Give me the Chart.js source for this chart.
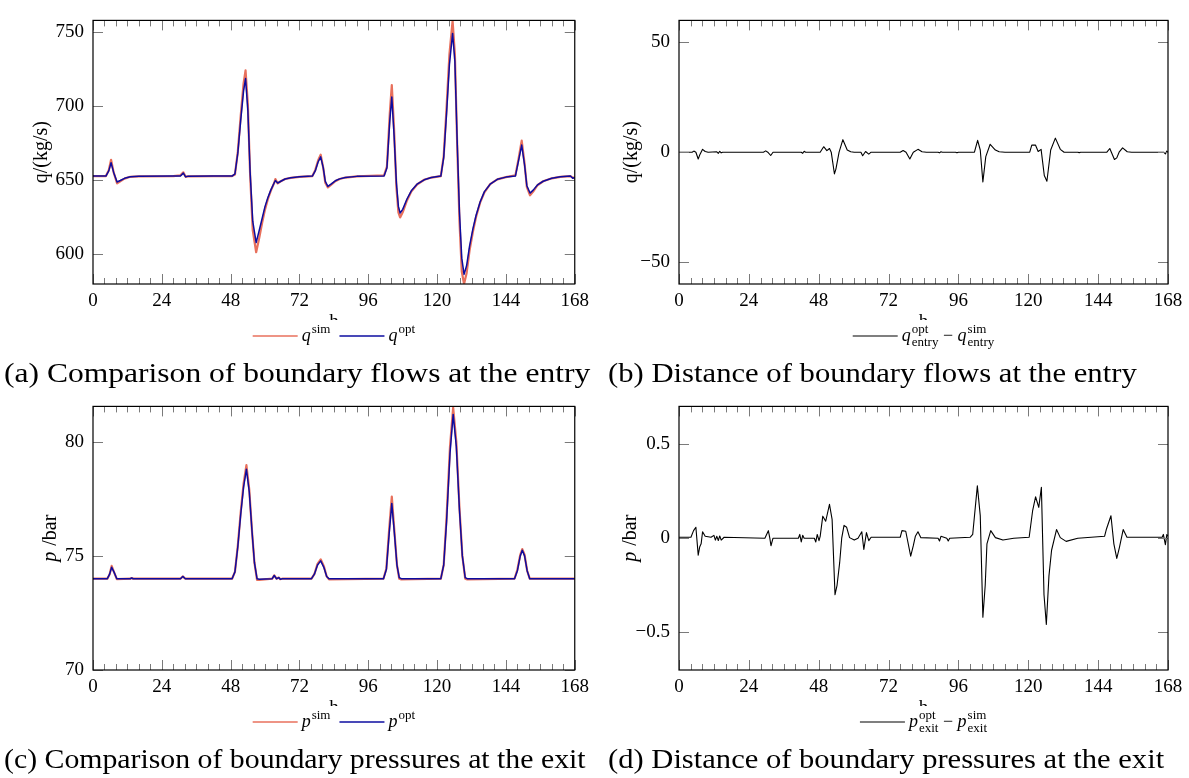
<!DOCTYPE html>
<html>
<head>
<meta charset="utf-8">
<script src="https://cdn.jsdelivr.net/npm/chart.js@4.4.1/dist/chart.umd.min.js"></script>
<style>
html, body { margin: 0; padding: 0; background: #fff; }
body { width: 1189px; height: 778px; position: relative; overflow: hidden; font-family: "Liberation Serif", serif; }
canvas { position: absolute; }
.cap { position: absolute; white-space: nowrap; font-size: 28px; line-height: 1; color: #000; transform-origin: 0 50%; }
</style>
</head>
<body>
<canvas id="chartA" width="595" height="360" style="left:0;top:0"></canvas>
<canvas id="chartB" width="594" height="360" style="left:595px;top:0"></canvas>
<canvas id="chartC" width="595" height="360" style="left:0;top:386px"></canvas>
<canvas id="chartD" width="594" height="360" style="left:595px;top:386px"></canvas>
<div class="cap" id="capA" data-w="586" style="left:4px;top:359px">(a) Comparison of boundary flows at the entry</div>
<div class="cap" id="capB" data-w="529" style="left:608px;top:359px">(b) Distance of boundary flows at the entry</div>
<div class="cap" id="capC" data-w="582" style="left:4px;top:745px">(c) Comparison of boundary pressures at the exit</div>
<div class="cap" id="capD" data-w="556" style="left:608px;top:745px">(d) Distance of boundary pressures at the exit</div>
<script>
// hours (x axis)
const xTicks = [0, 24, 48, 72, 96, 120, 144, 168];

// (a) boundary flow at the entry, kg/s
const tFlow = [0, 4.5, 5.5, 6.3, 7.2, 8.4, 9.5, 11, 13, 16,
  28, 30.5, 31.5, 32.3, 33, 42, 48.5, 49.5, 50.5, 51.5,
  52.5, 53.2, 54, 54.8, 55.7, 56.9, 58, 59, 60, 61,
  62, 63.2, 63.6, 64.4, 65.5, 67, 69, 72, 76.5, 77.5,
  78.5, 79.4, 80.3, 81, 81.9, 83, 84.5, 86, 88, 92,
  101.5, 102.5, 103.5, 104.2, 105, 105.8, 106.5, 107.1, 108, 109.5,
  111, 113, 115.5, 118, 121.3, 122.3, 123.3, 124.3, 125.4, 126.2,
  127, 127.8, 128.6, 129.4, 130.3, 131.3, 132.5, 133.6, 135, 136.5,
  138.5, 141, 144, 147.3, 148.3, 149.5, 150.5, 151.3, 152.4, 153.5,
  155, 157, 160, 163, 166.5, 167.3, 168];
const qSim = [652.5, 652.5, 656.5, 663.5, 655, 647.5, 649, 650.8, 652, 652.3,
  652.5, 653, 655, 652, 652.3, 652.5, 652.5, 653.5, 669, 693,
  715, 724, 701, 653, 616, 601, 611, 621, 630, 637,
  642.5, 648, 650.5, 647.5, 649, 650.5, 651.3, 652, 652.5, 656.5,
  663, 667, 658, 648, 644.8, 646.5, 649, 650.5, 651.5, 652.3,
  653, 659, 695, 714, 684, 645, 628, 624.5, 628, 636,
  642, 646.8, 650, 651.5, 652.5, 666, 699, 735, 757.5, 735,
  674, 622, 588, 579.5, 587, 602, 615, 625, 634.5, 641.5,
  647, 650.3, 651.8, 653, 663, 676.5, 661, 645, 639.5, 642,
  646.3, 649, 651, 652, 652.5, 651.5, 651.5];
const qOpt = [652.5, 652.5, 656, 661.5, 655, 648.5, 649.5, 651, 652, 652.3,
  652.5, 652.5, 654.5, 652, 652.3, 652.5, 652.5, 654, 668, 690,
  710, 718.5, 697, 655, 622, 607.5, 616, 624, 632, 638,
  643, 648, 649.5, 647.8, 649, 650.5, 651.3, 652, 652.5, 656,
  662, 665.5, 658, 649, 645.5, 647, 649.3, 650.6, 651.6, 652.3,
  652.5, 658, 690, 706, 680, 648, 632, 627.5, 630, 637,
  642.5, 647, 650, 651.5, 652.5, 665, 695, 728, 749, 730,
  676, 628, 597, 586, 592, 605, 617, 626, 635, 642,
  647, 650.3, 651.8, 652.5, 662, 673.5, 660, 646, 641, 643,
  646.5, 649, 651, 652, 652.5, 651, 651.5];

// (b) opt - sim flow at the entry
const tFlowDiff = [0, 4.5, 5.1, 5.8, 6.6, 7.2, 8.1, 9, 10, 13, 13.5, 14, 14.5, 15,
  29, 29.8, 30.5, 31.5, 32.3, 42, 42.5, 43, 43.5, 48.5, 49.7, 50.8, 51.7, 52.3,
  53.4, 53.9, 55, 56.3, 57.8, 59, 60.2, 62.5, 63.1, 64.1, 65.2, 66, 76, 77, 78,
  79.3, 80.5, 82.1, 83.5, 85, 89, 89.5, 90, 90.5, 95, 95.5, 96, 101.5, 102.6,
  103.5, 104.4, 105.4, 106.9, 108.7, 110, 112, 120.5, 121.2, 122.5, 123.4, 124.4,
  125.5, 126.4, 127.7, 129.3, 131, 132.3, 137, 137.5, 138, 147, 148, 149.6, 150.4,
  151.2, 152.4, 154, 155.5, 166.5, 167.1, 167.6, 168];
const qDiff = [0, 0, 0.5, 0, -3.1, -1, 1.3, 0.3, 0, 0.2, -0.5, 0.4, -0.3, 0,
  0, 0.6, 0, -1.5, 0, 0, -0.5, 0.4, 0, 0, 2.5, 0.7, 1.7, 0,
  -9.9, -7.7, 0, 5.7, 1, 0.2, 0, 0, -1.6, 0.3, -0.9, 0, 0, 0.8, 0,
  -3.1, 0, 1.3, 0.2, 0, 0, -0.3, 0.2, 0, 0, -0.3, 0, 0, 5.4,
  1, -13.5, -2, 3.6, 1, 0.2, 0, 0, 3.2, 3.2, 0.3, 1.3,
  -10.6, -13.2, 1, 6.4, 1.3, 0, 0, -0.2, 0, 0, 1.7, -3.3, -2.6,
  0, 2, 0.2, 0, 0, -0.8, 0.5, 0];

// (c) boundary pressure at the exit, bar
const tPress = [0, 5, 5.8, 6.5, 7.3, 8.3, 13, 13.5, 14, 30.5, 31.3, 32.2,
  48.5, 49.5, 50.5, 51.5, 52.5, 53.5, 54.5, 55.5, 56.3, 57.2, 58,
  62.5, 63.2, 64, 64.8, 65.3, 66,
  76.2, 77.2, 78.3, 79.4, 80.5, 81.5, 82.3,
  101.3, 102.3, 103.3, 104.2, 105.1, 106, 106.8, 107.5,
  121.3, 122.3, 123.3, 124.5, 125.6, 126.7, 127.8, 128.8, 129.8, 130.5,
  147, 148, 149, 149.7, 150.5, 151.4, 152.3,
  168];
const pSim = [74.0, 74.0, 74.2, 74.56, 74.3, 73.98, 74.0, 74.03, 74.0, 74.0, 74.1, 74.0,
  74.0, 74.3, 75.45, 76.9, 78.15, 78.98, 77.9, 76.0, 74.7, 73.95, 73.95,
  74.0, 74.15, 74.0, 74.05, 73.98, 74.0,
  74.0, 74.2, 74.65, 74.85, 74.55, 74.1, 73.97,
  74.0, 74.45, 76.2, 77.6, 76.1, 74.6, 74.0, 73.97,
  74.0, 74.6, 76.7, 79.8, 81.5, 80.0, 77.1, 75.0, 74.0, 73.97,
  74.0, 74.4, 75.05, 75.3, 75.05, 74.35, 74.0,
  74.0];
const pOpt = [74.0, 74.0, 74.2, 74.5, 74.3, 74.0, 74.0, 74.03, 74.0, 74.0, 74.1, 74.0,
  74.0, 74.3, 75.4, 76.8, 78.0, 78.8, 77.8, 76.0, 74.7, 74.0, 73.98,
  74.0, 74.14, 74.0, 74.05, 73.98, 74.0,
  74.0, 74.2, 74.6, 74.78, 74.5, 74.1, 74.0,
  74.0, 74.4, 76.0, 77.3, 76.0, 74.6, 74.05, 74.0,
  74.0, 74.6, 76.5, 79.5, 81.2, 79.8, 77.0, 75.0, 74.05, 74.0,
  74.0, 74.35, 75.0, 75.25, 75.0, 74.35, 74.0,
  74.0];

// (d) opt - sim pressure at the exit
const tPressDiff = [0, 4.1, 5, 5.8, 6.6, 7.1, 7.6, 8.1, 9, 11,
  12, 12.5, 13, 13.5, 14, 14.5, 15.5, 29.5, 30.7, 31.2, 31.6, 32.3,
  41, 41.5, 42, 42.5, 43, 46.5, 47, 47.5, 48.1, 48.5, 49.4, 50.4, 51.7, 52.6, 53.6,
  54.3, 55.2, 55.9, 56.7, 57.6, 58.6, 60.2, 61.5, 62.8, 63.5, 64.4, 65.2, 66,
  76, 76.6, 77.9, 79.6, 80.5, 81.2, 82.1, 83.1, 89, 89.5, 90, 92, 92.5, 93,
  100, 100.9, 102.5, 103.5, 104.4, 105.2, 105.8, 107.1, 108.7, 111.3, 115,
  120.3, 121.5, 122.5, 123.6, 124.5, 125.4, 126.2, 127.1, 128, 129.7, 131, 133, 137,
  146.2, 146.8, 148.4, 149.4, 150.4, 151.3, 152.6, 153.9, 166, 166.4, 167.1, 167.6, 168];
const pDiff = [0.005, 0.005, 0.04, 0.058, -0.09, -0.047, -0.03, 0.034, 0.01, 0.005,
  0.015, -0.01, 0.01, -0.012, 0.012, -0.01, 0.005, 0, 0.04, 0, -0.04, 0,
  0, 0.02, -0.02, 0.015, 0, 0, -0.02, 0.02, -0.013, 0.01, 0.117, 0.09, 0.18, 0.1, -0.30,
  -0.25, -0.13, 0, 0.068, 0.058, 0.003, -0.01, 0, 0.034, -0.06, 0.03, -0.013, 0.005,
  0.005, 0.04, 0.037, -0.095, -0.04, 0.01, 0.034, 0.003, 0, -0.015, 0.01, 0, -0.015, 0,
  0.005, 0.02, 0.278, 0.12, -0.42, -0.25, -0.03, 0.04, 0.003, -0.01, 0,
  0.005, 0.147, 0.22, 0.164, 0.27, -0.3, -0.458, -0.2, -0.064, 0.046, 0.003, -0.017, 0,
  0.01, 0.046, 0.119, -0.03, -0.107, -0.05, 0.046, 0.005, 0.005, 0.02, -0.034, 0.02, 0.01];

// y tick labels per panel
const yTicksA = [600, 650, 700, 750];
const yTicksB = [-50, 0, 50];
const yTicksC = [70, 75, 80];
const yTicksD = [-0.5, 0, 0.5];

const RED = 'rgb(232,112,92)';
const BLUE = '#0c0ca0';
const SERIF = '"Liberation Serif", "Times New Roman", serif';

function pts(ts, vs) { return ts.map((t, i) => ({ x: t, y: vs[i] })); }
function fmt(v) { return v < 0 ? '\u2212' + Math.abs(v) : String(v); }

// draws base symbols with super/subscripts, returns width
function drawMath(ctx, x, y, parts, draw, size) {
  size = size || 18;
  const small = Math.round(size * 0.72);
  let cx = x;
  for (const p of parts) {
    if (p.text !== undefined) {
      ctx.font = size + 'px ' + SERIF;
      if (draw) ctx.fillText(p.text, cx, y);
      cx += ctx.measureText(p.text).width;
      continue;
    }
    ctx.font = 'italic ' + size + 'px ' + SERIF;
    if (draw) ctx.fillText(p.base, cx, y);
    cx += ctx.measureText(p.base).width + 1;
    if (!p.sup && !p.sub) continue;
    ctx.font = small + 'px ' + SERIF;
    let w = 0;
    if (p.sup) { if (draw) ctx.fillText(p.sup, cx, y - 8); w = ctx.measureText(p.sup).width; }
    if (p.sub) { if (draw) ctx.fillText(p.sub, cx, y + 5); w = Math.max(w, ctx.measureText(p.sub).width); }
    cx += w;
  }
  return cx - x;
}

function panelPlugin(cfg) {
  return {
    id: 'panel',
    afterDraw(chart) {
      const { ctx, chartArea: a } = chart;
      const x = chart.scales.x, y = chart.scales.y;
      ctx.save();
      // inner ticks, mirrored on both sides
      ctx.fillStyle = '#7a7a7a';
      for (let t = 0; t <= 168; t += 4) {
        const px = Math.round(x.getPixelForValue(t));
        const len = t % 24 === 0 ? 10 : 6;
        ctx.fillRect(px, a.bottom - len, 1, len);
        ctx.fillRect(px, a.top, 1, len);
      }
      for (const v of cfg.yTicks) {
        const py = Math.round(y.getPixelForValue(v));
        ctx.fillRect(a.left, py, 10, 1);
        ctx.fillRect(a.right - 10, py, 10, 1);
      }
      // frame
      ctx.strokeStyle = '#000';
      ctx.lineWidth = 1.2;
      ctx.strokeRect(a.left, a.top, a.right - a.left, a.bottom - a.top);

      ctx.fillStyle = '#000';
      ctx.textBaseline = 'alphabetic';
      const cx = (a.left + a.right) / 2;
      // x label, partly hidden by the legend
      ctx.font = '19px ' + SERIF;
      ctx.textAlign = 'center';
      ctx.fillText('h', cx, a.bottom + 43);
      ctx.textAlign = 'left';

      // legend
      const lineLen = 45, gap = 4, sep = 9;
      let total = 0;
      cfg.legend.forEach((it, i) => {
        total += lineLen + gap + drawMath(ctx, 0, 0, it.label, false) + (i ? sep : 0);
      });
      let lx = cx - total / 2;
      const ly = a.bottom + 57;
      ctx.fillStyle = '#fff';
      ctx.fillRect(lx - 6, a.bottom + 36, total + 12, 30);
      cfg.legend.forEach((it, i) => {
        if (i) lx += sep;
        ctx.strokeStyle = it.color;
        ctx.lineWidth = it.width;
        ctx.beginPath();
        ctx.moveTo(lx, ly - 5); ctx.lineTo(lx + lineLen, ly - 5);
        ctx.stroke();
        lx += lineLen + gap;
        ctx.fillStyle = '#000';
        lx += drawMath(ctx, lx, ly, it.label, true);
      });

      // y title
      ctx.translate(cfg.yTitleX, (a.top + a.bottom) / 2);
      ctx.rotate(-Math.PI / 2);
      const w = drawMath(ctx, 0, 0, cfg.yTitle, false, 20);
      drawMath(ctx, -w / 2, 6, cfg.yTitle, true, 20);
      ctx.restore();
    }
  };
}

function makeChart(id, cfg) {
  return new Chart(document.getElementById(id), {
    type: 'line',
    data: { datasets: cfg.datasets },
    options: {
      responsive: false,
      animation: false,
      devicePixelRatio: 1,
      layout: { padding: { top: 9, right: cfg.padRight, left: 0, bottom: 0 } },
      plugins: { legend: { display: false }, tooltip: { enabled: false } },
      elements: { point: { radius: 0 }, line: { tension: 0, borderJoinStyle: 'round' } },
      scales: {
        x: {
          type: 'linear', min: 0, max: 168,
          grid: { display: false, drawTicks: false },
          border: { display: false },
          afterBuildTicks: s => { s.ticks = xTicks.map(v => ({ value: v })); },
          afterFit: s => { s.height = 76; },
          ticks: { autoSkip: false, maxRotation: 0, padding: 6, color: '#000', font: { family: SERIF, size: 19 } }
        },
        y: {
          type: 'linear', min: cfg.yMin, max: cfg.yMax,
          grid: { display: false, drawTicks: false },
          border: { display: false },
          afterBuildTicks: s => { s.ticks = cfg.yTicks.map(v => ({ value: v })); },
          afterFit: s => { s.width = cfg.yAxisW; },
          ticks: { padding: 9, color: '#000', font: { family: SERIF, size: 19 }, callback: v => fmt(v) }
        }
      }
    },
    plugins: [panelPlugin(cfg)]
  });
}

makeChart('chartA', {
  yMin: 579.5, yMax: 757.8, yTicks: yTicksA, yAxisW: 93, padRight: 12, yTitleX: 41,
  yTitle: [{ text: 'q/(kg/s)' }],
  datasets: [
    { data: pts(tFlow, qSim), borderColor: RED, borderWidth: 2.2, order: 2 },
    { data: pts(tFlow, qOpt), borderColor: BLUE, borderWidth: 1.5, order: 1 }
  ],
  legend: [
    { color: RED, width: 1.6, label: [{ base: 'q', sup: 'sim' }] },
    { color: BLUE, width: 1.6, label: [{ base: 'q', sup: 'opt' }] }
  ]
});

makeChart('chartB', {
  yMin: -60, yMax: 60, yTicks: yTicksB, yAxisW: 84, padRight: 21, yTitleX: 36,
  yTitle: [{ text: 'q/(kg/s)' }],
  datasets: [
    { data: pts(tFlowDiff, qDiff), borderColor: '#000', borderWidth: 1.1 }
  ],
  legend: [
    { color: '#000', width: 1.2, label: [{ base: 'q', sup: 'opt', sub: 'entry' }, { text: ' \u2212 ' }, { base: 'q', sup: 'sim', sub: 'entry' }] }
  ]
});

makeChart('chartC', {
  yMin: 70, yMax: 81.55, yTicks: yTicksC, yAxisW: 93, padRight: 12, yTitleX: 50,
  yTitle: [{ base: 'p' }, { text: ' /bar' }],
  datasets: [
    { data: pts(tPress, pSim), borderColor: RED, borderWidth: 2.2, order: 2 },
    { data: pts(tPress, pOpt), borderColor: BLUE, borderWidth: 1.5, order: 1 }
  ],
  legend: [
    { color: RED, width: 1.6, label: [{ base: 'p', sup: 'sim' }] },
    { color: BLUE, width: 1.6, label: [{ base: 'p', sup: 'opt' }] }
  ]
});

makeChart('chartD', {
  yMin: -0.7, yMax: 0.7, yTicks: yTicksD, yAxisW: 84, padRight: 21, yTitleX: 35,
  yTitle: [{ base: 'p' }, { text: ' /bar' }],
  datasets: [
    { data: pts(tPressDiff, pDiff), borderColor: '#000', borderWidth: 1.1 }
  ],
  legend: [
    { color: '#000', width: 1.2, label: [{ base: 'p', sup: 'opt', sub: 'exit' }, { text: ' \u2212 ' }, { base: 'p', sup: 'sim', sub: 'exit' }] }
  ]
});

// stretch captions to the measured widths of the reference
document.querySelectorAll('.cap').forEach(el => {
  const target = +el.dataset.w;
  el.style.transform = 'scaleX(' + (target / el.offsetWidth).toFixed(3) + ')';
});
</script>
</body>
</html>
